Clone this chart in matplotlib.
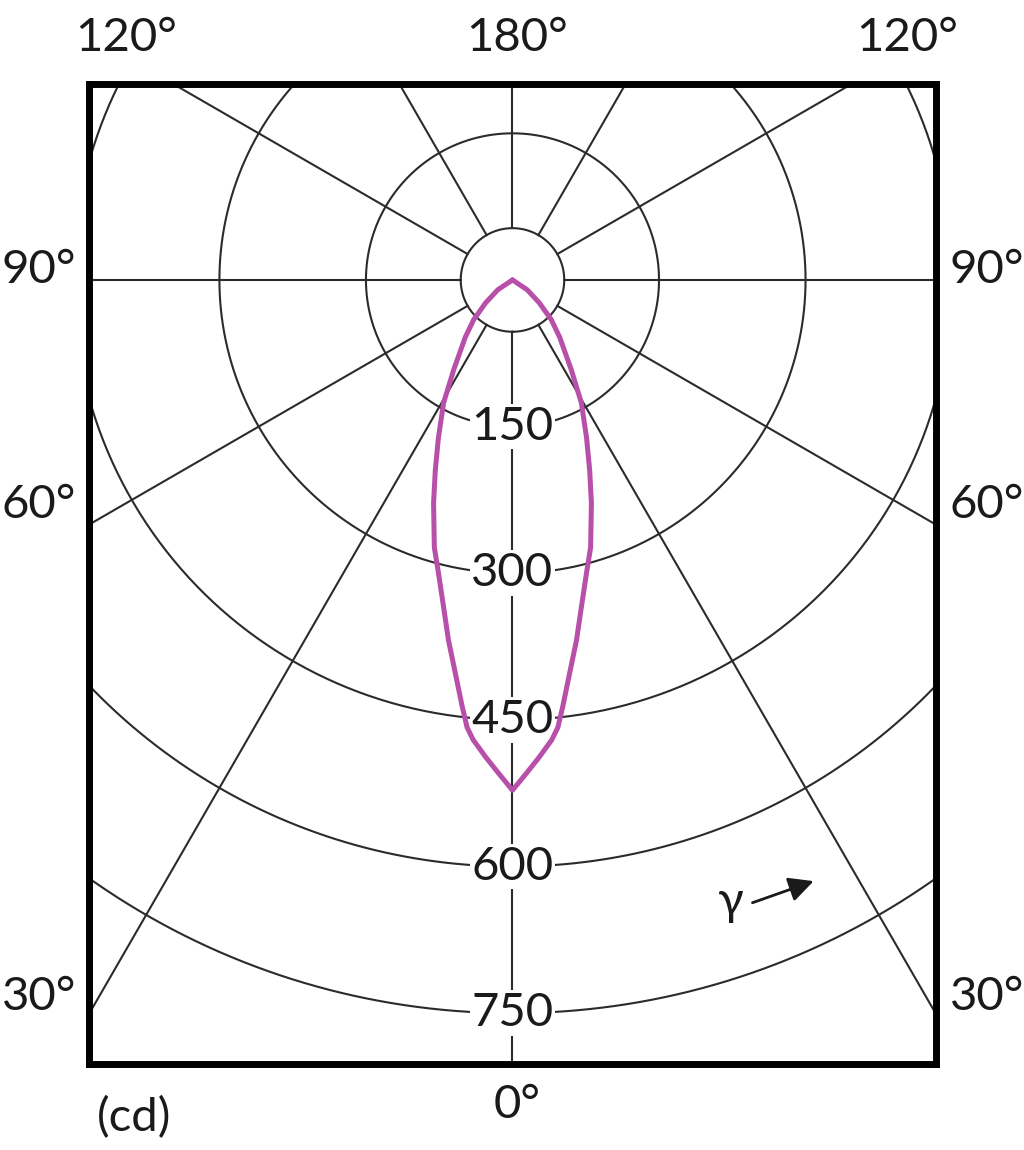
import numpy as np
import matplotlib
matplotlib.use("Agg")
import matplotlib.pyplot as plt

# luminous intensity (cd) vs gamma angle (deg), symmetric C-plane
gamma = [0, 1.6, 3.2, 4.9, 5.8, 6.7, 8.3, 10.1, 11.9, 14.2, 16.3, 19.5, 22.1,
         25.2, 29.3, 33.2, 39.5, 44.3, 49.6, 56.3, 63]
intensity = [522, 505, 489, 472, 460, 440, 406, 374, 342, 309, 285, 242, 210,
             178, 144, 110, 76, 57, 36, 18, 0]

rings = [150, 300, 450, 600, 750]
ring_labels = ["150", "300", "450", "600", "750"]
hub = 53
spokes = [0, 30, 60, 90, 120, 150, 180, 210, 240, 270, 300, 330]

FONT = ["Lato", "DejaVu Sans"]
GRID = "#2b2b2b"
CURVE = "#b84fa8"
FS = 34


def to_xy(ang_deg, r):
    a = np.radians(np.asarray(ang_deg, dtype=float))
    r = np.asarray(r, dtype=float)
    return r * np.sin(a), -r * np.cos(a)


fig = plt.figure(figsize=(10.24, 11.5), dpi=100)
ax = fig.add_axes([0.0874, 0.0748, 0.8271, 0.8522])
ax.set_xlim(-433, 434)
ax.set_ylim(-802, 200.5)
ax.set_xticks([])
ax.set_yticks([])
for s in ax.spines.values():
    s.set_linewidth(5)
    s.set_color("black")
    s.set_zorder(10)

# polar grid
t = np.linspace(0, 360, 721)
for r in [hub] + rings:
    x, y = to_xy(t, np.full_like(t, r))
    ax.plot(x, y, color=GRID, lw=1.5, zorder=1)
for a in spokes:
    x, y = to_xy([a, a], [hub, 1500])
    ax.plot(x, y, color=GRID, lw=1.5, zorder=1)

# ring values on the 0 deg axis
for r, lab in zip(rings, ring_labels):
    ax.text(0, -r, lab, ha="center", va="center", fontsize=FS, family=FONT,
            color="#1a1a1a", zorder=3,
            bbox=dict(facecolor="white", edgecolor="none", pad=1.5))

# intensity curve, mirrored for both sides
g = np.array(gamma, dtype=float)
I = np.array(intensity, dtype=float)
ang = np.concatenate([-g[::-1], g[1:]])
rad = np.concatenate([I[::-1], I[1:]])
cx, cy = to_xy(ang, rad)
ax.plot(cx, cy, color=CURVE, lw=3.6, zorder=5, solid_joinstyle="round",
        solid_capstyle="round")

# gamma direction arrow
ax.annotate("", xy=(311, -614), xytext=(243, -638),
            arrowprops=dict(arrowstyle="-|>,head_length=1.5,head_width=0.75",
                            color="#1a1a1a", lw=2.0), zorder=6)
ax.text(224, -636, "γ", ha="center", va="center", fontsize=FS, family=FONT,
        color="#1a1a1a", zorder=6)

# angle labels around the frame
W, H = 1024.0, 1150.0
labels = [
    ("120°", 126, 38, "center"), ("180°", 517, 38, "center"),
    ("120°", 907, 38, "center"),
    ("90°", 2, 270, "left"), ("90°", 950, 270, "left"),
    ("60°", 2, 505, "left"), ("60°", 950, 505, "left"),
    ("30°", 2, 997, "left"), ("30°", 950, 997, "left"),
    ("0°", 517, 1105, "center"),
]
for txt, px, py, ha in labels:
    fig.text(px / W, 1 - py / H, txt, ha=ha, va="center", fontsize=FS,
             family=FONT, color="#1a1a1a")
fig.text(134 / W, 1 - 1118 / H, "(cd)", ha="center", va="center", fontsize=FS,
         family=FONT, color="#1a1a1a")

fig.savefig("out.png", dpi=100, facecolor="white")
